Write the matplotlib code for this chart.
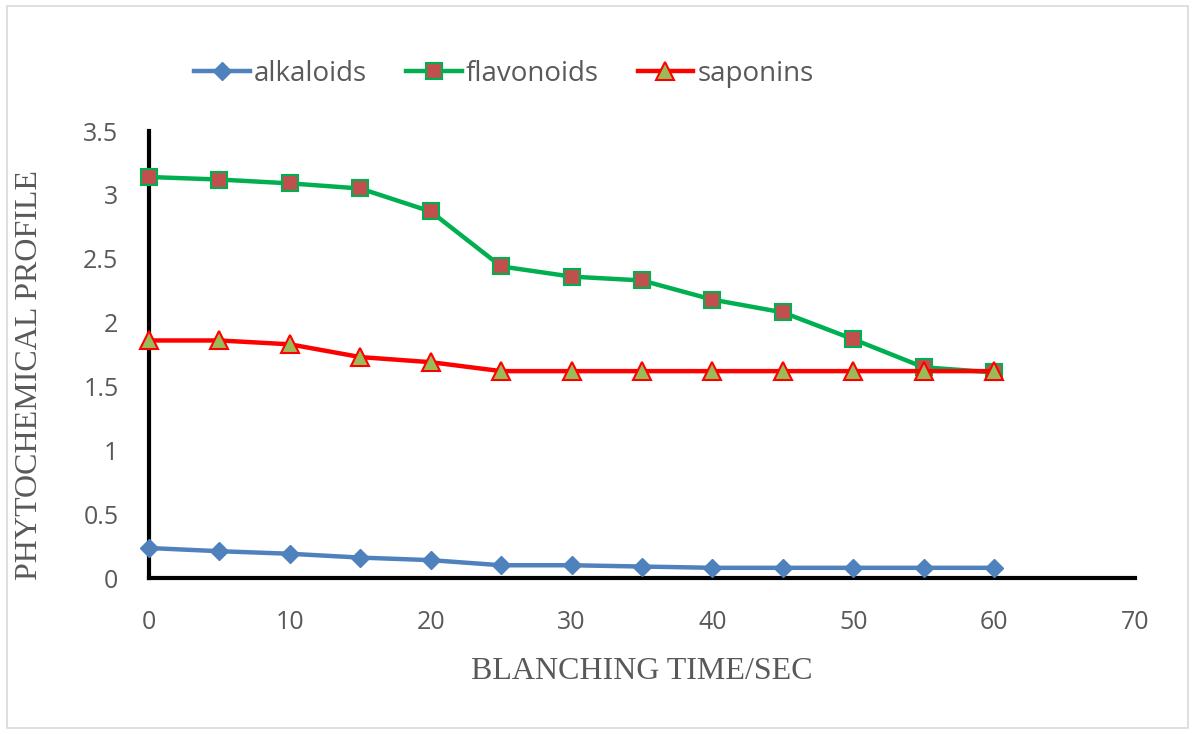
import matplotlib
matplotlib.use("Agg")
import matplotlib.pyplot as plt
from matplotlib.patches import Rectangle

# blanching time (sec)
time_sec = [0, 5, 10, 15, 20, 25, 30, 35, 40, 45, 50, 55, 60]

alkaloids = [0.235, 0.21, 0.19, 0.16, 0.14, 0.10, 0.10, 0.09, 0.08, 0.08, 0.08, 0.08, 0.08]
flavonoids = [3.14, 3.12, 3.09, 3.05, 2.87, 2.44, 2.36, 2.33, 2.18, 2.08, 1.87, 1.65, 1.61]
saponins = [1.86, 1.86, 1.83, 1.73, 1.69, 1.62, 1.62, 1.62, 1.62, 1.62, 1.62, 1.62, 1.62]

x_ticks = [0, 10, 20, 30, 40, 50, 60, 70]
y_ticks = [0, 0.5, 1, 1.5, 2, 2.5, 3, 3.5]
y_tick_labels = ["0", "0.5", "1", "1.5", "2", "2.5", "3", "3.5"]

TICK_GREY = "#595959"

fig = plt.figure(figsize=(11.95, 7.34), dpi=100)
fig.patch.set_facecolor("white")
# light outer frame like the exported chart area
fig.add_artist(Rectangle((0.006, 0.008), 0.988, 0.984, transform=fig.transFigure,
                         fill=False, edgecolor="#d9d9d9", linewidth=1.2))

ax = fig.add_axes([0.1247, 0.2125, 0.825, 0.609])

ax.plot(time_sec, alkaloids, color="#4f81bd", linewidth=3.2, marker="D",
        markersize=9, markerfacecolor="#4f81bd", markeredgecolor="#4f81bd",
        label="alkaloids", zorder=3)
ax.plot(time_sec, flavonoids, color="#00b050", linewidth=3.2, marker="s",
        markersize=12, markerfacecolor="#c0504d", markeredgecolor="#00b050",
        markeredgewidth=1.5, label="flavonoids", zorder=3)
ax.plot(time_sec, saponins, color="#ff0000", linewidth=3.2, marker="^",
        markersize=13, markerfacecolor="#9bbb59", markeredgecolor="#ff0000",
        markeredgewidth=1.5, label="saponins", zorder=4)

ax.set_xlim(0, 70)
ax.set_ylim(0, 3.5)
ax.set_xticks(x_ticks)
ax.set_yticks(y_ticks)
ax.set_yticklabels(y_tick_labels)
ax.tick_params(length=0, labelsize=18, colors=TICK_GREY)
ax.tick_params(axis="x", pad=23)
ax.tick_params(axis="y", pad=22)
for lbl in ax.get_xticklabels() + ax.get_yticklabels():
    lbl.set_fontfamily("Open Sans")

for side in ("top", "right"):
    ax.spines[side].set_visible(False)
for side in ("left", "bottom"):
    ax.spines[side].set_linewidth(3)
    ax.spines[side].set_color("black")
for line in ax.lines:
    line.set_clip_on(False)

ax.set_xlabel("BLANCHING TIME/SEC", fontsize=23, color=TICK_GREY,
              fontfamily="Liberation Serif", labelpad=16)
ax.set_ylabel("PHYTOCHEMICAL PROFILE", fontsize=23, color=TICK_GREY,
              fontfamily="Liberation Serif")
ax.yaxis.set_label_coords(-0.107, 0.454)

leg = ax.legend(loc="center", bbox_to_anchor=(0.36, 1.128), ncol=3,
                frameon=False, handlelength=2.0,
                columnspacing=1.4, handletextpad=0.15,
                prop={"family": "Open Sans", "size": 20})
for txt in leg.get_texts():
    txt.set_color(TICK_GREY)

fig.savefig("out.png", dpi=100, facecolor="white")
